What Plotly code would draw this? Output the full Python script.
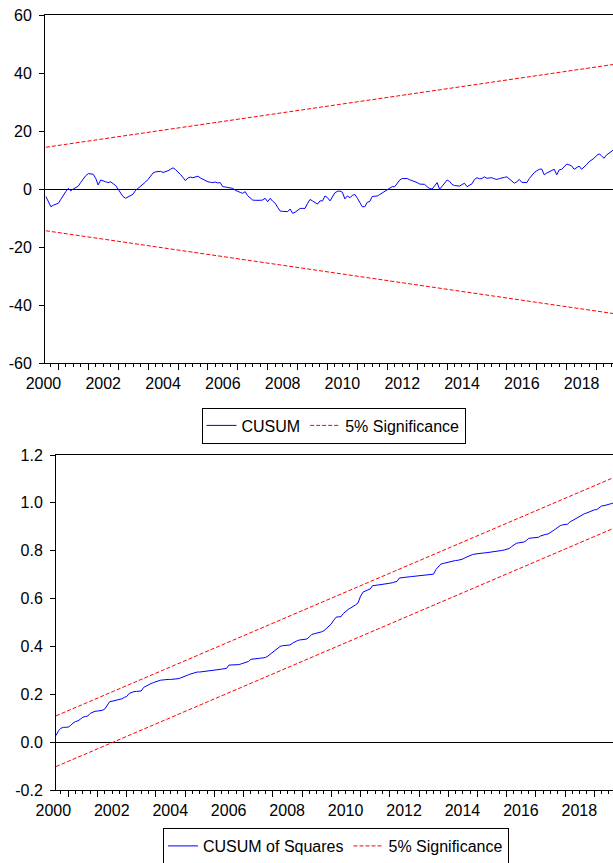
import plotly.graph_objects as go
import pandas as pd

# ---------------- data ----------------
start_month = "2000-08-01"

cusum = [
    -2.6, -4.5, -6.1, -5.6, -5.3, -4.9, -3.5, -2.1, -0.9, 0.2,
    -0.6, 0.0, 0.5, 1.0, 2.3, 3.7, 4.6, 5.3, 5.3, 5.1,
    3.7, 1.4, 3.1, 2.9, 2.5, 2.2, 2.5, 1.8, 1.2, -0.1,
    -1.6, -2.6, -3.2, -2.8, -2.4, -1.8, -0.5, 0.2, 1.1, 1.8,
    2.4, 3.3, 4.5, 5.5, 5.9, 6.1, 6.1, 5.7, 5.9, 6.3,
    6.8, 7.3, 6.7, 6.0, 5.0, 4.0, 2.9, 3.8, 4.1, 3.9,
    4.1, 4.4, 3.8, 3.3, 3.0, 2.5, 2.3, 2.2, 2.4, 2.1,
    2.2, 0.8, 0.7, 0.6, 0.4, 0.2, -0.4, -0.9, -1.2, -1.5,
    -0.9, -2.3, -3.2, -3.8, -3.9, -4.0, -3.9, -3.8, -3.2, -4.4,
    -3.2, -4.2, -4.9, -6.3, -7.6, -7.7, -7.8, -7.8, -6.9, -8.4,
    -8.0, -7.5, -6.7, -6.7, -6.7, -5.0, -3.6, -4.1, -4.6, -5.2,
    -4.1, -4.1, -2.4, -3.0, -4.1, -2.5, -1.3, -0.8, -0.7, -1.1,
    -3.4, -2.4, -3.0, -2.2, -1.9, -3.2, -5.0, -6.1, -6.1, -4.6,
    -4.3, -2.6, -2.5, -2.4, -1.9, -1.3, -0.8, -0.1, 0.5, 0.8,
    0.8, 2.0, 3.1, 3.6, 3.7, 3.6, 3.2, 2.9, 2.6, 2.2,
    1.7, 1.7, 1.6, 0.8, 0.2, 0.0, 1.2, 2.2, -0.1, 1.0,
    2.0, 3.1, 2.6, 1.6, 1.2, 1.0, 1.0, 1.5, 2.0, 0.8,
    1.2, 1.8, 3.3, 3.9, 3.5, 3.6, 4.2, 3.7, 3.8, 3.9,
    3.5, 3.3, 3.6, 3.7, 4.0, 4.2, 3.5, 2.9, 2.0, 2.5,
    3.3, 2.3, 2.2, 2.2, 3.6, 4.7, 5.7, 6.3, 6.8, 6.9,
    4.9, 5.5, 6.0, 6.5, 6.8, 4.9, 6.6, 6.8, 7.7, 8.6,
    8.3, 8.0, 6.8, 7.5, 7.9, 6.8, 7.5, 8.4, 9.4, 10.0,
    10.6, 11.6, 12.1, 11.5, 10.6, 11.7, 12.4, 13.2, 13.6, 14.0,
]

cusum_sq = [
    0.028, 0.048, 0.058, 0.062, 0.062, 0.063, 0.070, 0.080, 0.086, 0.089,
    0.096, 0.104, 0.107, 0.109, 0.120, 0.125, 0.129, 0.130, 0.131, 0.133,
    0.138, 0.155, 0.169, 0.171, 0.173, 0.174, 0.176, 0.181, 0.187, 0.191,
    0.204, 0.208, 0.211, 0.212, 0.213, 0.214, 0.229, 0.235, 0.240, 0.245,
    0.249, 0.253, 0.256, 0.259, 0.260, 0.262, 0.262, 0.262, 0.262, 0.263,
    0.265, 0.268, 0.271, 0.276, 0.280, 0.284, 0.288, 0.292, 0.293, 0.293,
    0.294, 0.295, 0.297, 0.299, 0.300, 0.302, 0.303, 0.304, 0.305, 0.307,
    0.308, 0.322, 0.322, 0.322, 0.322, 0.324, 0.327, 0.330, 0.333, 0.337,
    0.346, 0.348, 0.349, 0.350, 0.351, 0.352, 0.354, 0.360, 0.368, 0.377,
    0.386, 0.393, 0.400, 0.403, 0.404, 0.405, 0.406, 0.413, 0.420, 0.424,
    0.427, 0.429, 0.430, 0.431, 0.440, 0.450, 0.453, 0.455, 0.457, 0.461,
    0.466, 0.476, 0.484, 0.494, 0.510, 0.522, 0.524, 0.524, 0.538, 0.548,
    0.555, 0.561, 0.566, 0.574, 0.582, 0.610, 0.627, 0.633, 0.636, 0.640,
    0.654, 0.655, 0.656, 0.657, 0.659, 0.660, 0.662, 0.664, 0.666, 0.668,
    0.672, 0.686, 0.688, 0.689, 0.690, 0.691, 0.692, 0.693, 0.694, 0.695,
    0.696, 0.697, 0.698, 0.699, 0.700, 0.702, 0.722, 0.735, 0.744, 0.747,
    0.750, 0.753, 0.756, 0.758, 0.759, 0.760, 0.761, 0.765, 0.771, 0.776,
    0.781, 0.784, 0.786, 0.788, 0.789, 0.790, 0.791, 0.792, 0.793, 0.794,
    0.796, 0.797, 0.799, 0.801, 0.803, 0.805, 0.809, 0.817, 0.826, 0.831,
    0.833, 0.834, 0.836, 0.842, 0.851, 0.853, 0.854, 0.855, 0.856, 0.862,
    0.866, 0.868, 0.870, 0.875, 0.883, 0.890, 0.897, 0.905, 0.908, 0.909,
    0.911, 0.920, 0.926, 0.931, 0.936, 0.945, 0.950, 0.955, 0.958, 0.963,
    0.969, 0.971, 0.972, 0.978, 0.987, 0.988, 0.990, 0.993, 0.997, 1.000,
]

# 5% significance bounds (straight lines: first and last observation)
cusum_upper = [14.4, 43.1]
cusum_lower = [-14.4, -43.1]
sq_upper = [0.110, 1.106]
sq_lower = [-0.102, 0.894]

year_labels = ["2000", "2002", "2004", "2006", "2008",
               "2010", "2012", "2014", "2016", "2018"]
top_y_vals = [-60, -40, -20, 0, 20, 40, 60]
top_y_text = ["-60", "-40", "-20", "0", "20", "40", "60"]
bot_y_vals = [-0.2, 0.0, 0.2, 0.4, 0.6, 0.8, 1.0, 1.2]
bot_y_text = ["-0.2", "0.0", "0.2", "0.4", "0.6", "0.8", "1.0", "1.2"]

# ---------------- figure ----------------
dates = pd.date_range(start_month, periods=len(cusum), freq="MS")
bound_dates = [dates[0], dates[-1]]

# major ticks at every year start; the label of a year sits at the
# following year start and is shifted back by half a year
year_starts = [f"{y}-01-01" for y in range(2001, 2020)]
tick_text = []
for y in range(2001, 2020):
    prev = str(y - 1)
    tick_text.append(prev if prev in year_labels else "")

BLUE = "#0000FF"
RED = "#FF0000"
FONT = "Liberation Sans, Arial, sans-serif"
FS = 16

W, H = 613, 863
top_dom_x = [45 / W, 1.0]
top_dom_y = [1 - 363 / H, 1 - 15 / H]
bot_dom_x = [56 / W, 1.0]
bot_dom_y = [1 - 790 / H, 1 - 455 / H]

top_range = ["2000-07-21", "2019-07-20"]
bot_range = ["2000-07-31", "2019-08-22"]

fig = go.Figure()

# top panel
fig.add_trace(go.Scatter(x=dates, y=cusum, mode="lines", name="CUSUM",
                         line=dict(color=BLUE, width=1), xaxis="x", yaxis="y",
                         legend="legend"))
fig.add_trace(go.Scatter(x=bound_dates, y=cusum_upper, mode="lines",
                         name="5% Significance", legendgroup="sig1",
                         line=dict(color=RED, width=1, dash="4px,2px"),
                         xaxis="x", yaxis="y", legend="legend"))
fig.add_trace(go.Scatter(x=bound_dates, y=cusum_lower, mode="lines",
                         name="5% Significance", legendgroup="sig1", showlegend=False,
                         line=dict(color=RED, width=1, dash="4px,2px"),
                         xaxis="x", yaxis="y"))

# bottom panel
fig.add_trace(go.Scatter(x=dates, y=cusum_sq, mode="lines", name="CUSUM of Squares",
                         line=dict(color=BLUE, width=1), xaxis="x2", yaxis="y2",
                         legend="legend2"))
fig.add_trace(go.Scatter(x=bound_dates, y=sq_upper, mode="lines",
                         name="5% Significance", legendgroup="sig2",
                         line=dict(color=RED, width=1, dash="4px,2px"),
                         xaxis="x2", yaxis="y2", legend="legend2"))
fig.add_trace(go.Scatter(x=bound_dates, y=sq_lower, mode="lines",
                         name="5% Significance", legendgroup="sig2", showlegend=False,
                         line=dict(color=RED, width=1, dash="4px,2px"),
                         xaxis="x2", yaxis="y2"))

x_common = dict(
    type="date", showline=True, linecolor="black", linewidth=1, mirror=True,
    ticks="outside", tickmode="array", tickvals=year_starts, ticktext=tick_text,
    ticklen=6, tickcolor="black", showgrid=False, zeroline=False,
    ticklabelstandoff=0,
    tickfont=dict(size=FS, color="black", family=FONT),
    minor=dict(ticks="outside", ticklen=3, tickcolor="black",
               tickmode="linear", tick0="2000-01-01", dtick="M3", showgrid=False),
)
y_common = dict(
    showline=True, linecolor="black", linewidth=1, ticks="outside", ticklen=5,
    tickcolor="black", showgrid=False, zeroline=True, zerolinecolor="black",
    zerolinewidth=1, tickmode="array", ticklabelstandoff=4,
    tickfont=dict(size=FS, color="black", family=FONT),
)

fig.update_layout(
    width=W, height=H,
    margin=dict(l=0, r=0, t=0, b=0, autoexpand=False),
    paper_bgcolor="white", plot_bgcolor="white",
    font=dict(family=FONT, color="black", size=FS),
    hovermode=False,
    xaxis=dict(domain=top_dom_x, anchor="y", range=top_range,
               ticklabelshift=-15, **x_common),
    yaxis=dict(domain=top_dom_y, anchor="x", range=[-60, 60],
               tickvals=top_y_vals, ticktext=top_y_text, **y_common),
    xaxis2=dict(domain=bot_dom_x, anchor="y2", range=bot_range,
                ticklabelshift=-15, **x_common),
    yaxis2=dict(domain=bot_dom_y, anchor="x2", range=[-0.2, 1.2],
                tickvals=bot_y_vals, ticktext=bot_y_text, **y_common),
    legend=dict(orientation="h", x=333.5 / W, y=1 - 425.5 / H,
                xanchor="center", yanchor="middle",
                bordercolor="black", borderwidth=1, bgcolor="white",
                font=dict(size=FS, color="black", family=FONT)),
    legend2=dict(orientation="h", x=336 / W, y=1 - 846 / H,
                 xanchor="center", yanchor="middle",
                 bordercolor="black", borderwidth=1, bgcolor="white",
                 font=dict(size=FS, color="black", family=FONT)),
    showlegend=True,
)

# remove the browser's default 8px page margin so the figure fills the window
page_fix = ("document.body.style.margin='0';"
            "document.body.style.padding='0';"
            "document.documentElement.style.overflow='hidden';")

fig.write_html("out.html", config={"displayModeBar": False}, post_script=page_fix)
